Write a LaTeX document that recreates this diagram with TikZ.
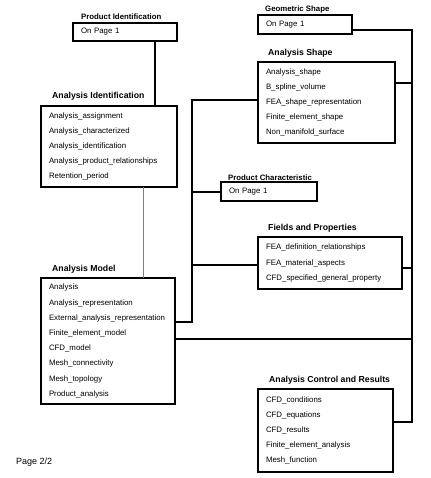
\documentclass[tikz,border=0pt]{standalone}
\usepackage{fontspec}
\setmainfont{Liberation Sans}
\usetikzlibrary{positioning}
\newcommand{\listfont}{\fontsize{7.85}{15.2}\selectfont}
\newcommand{\headfont}{\fontsize{8.7}{10}\selectfont\bfseries}
\newcommand{\subheadfont}{\fontsize{7.8}{9}\selectfont\bfseries}
\tikzstyle{listbox} = [rectangle, 
draw=black, 
line width=2pt, 
inner xsep=8pt, 
inner ysep=0pt, 
outer sep=0pt, 
align=left, 
font=\listfont]
\tikzstyle{heading} = [anchor=base west, font=\headfont, inner sep=0pt, xshift=11pt, yshift=7pt]
\tikzstyle{subheading} = [anchor=base west, font=\subheadfont, inner sep=0pt, xshift=8pt, yshift=3pt]
\tikzstyle{link} = [line width=2pt]
\tikzstyle{faint} = [line width=0.9pt, draw=gray]

\begin{document}
\begin{tikzpicture}[x=1pt, y=-1pt]
\useasboundingbox (0,0) rectangle (430,478);

% Nodes
\node (pid) [listbox, anchor=north west, text width=88pt, minimum height=18pt, label={[subheading]north west:Product Identification}] at (73,23) {On Page 1};
\node (ai) [listbox, below=65pt of pid.south east, anchor=north east, text width=120pt, minimum height=81pt, label={[heading]north west:Analysis Identification}] {Analysis\_assignment\\Analysis\_characterized\\Analysis\_identification\\Analysis\_product\_relationships\\Retention\_period};
\node (model) [listbox, below=91pt of ai.south west, anchor=north west, text width=118pt, minimum height=126pt, label={[heading]north west:Analysis Model}] {Analysis\\Analysis\_representation\\External\_analysis\_representation\\Finite\_element\_model\\CFD\_model\\Mesh\_connectivity\\Mesh\_topology\\Product\_analysis};
\node (geo) [listbox, anchor=north west, text width=78pt, minimum height=19pt, label={[subheading, xshift=-1pt]north west:Geometric Shape}] at (258,15) {On Page 1};
\node (shape) [listbox, below=28pt of geo.south west, anchor=north west, text width=121pt, minimum height=81pt, label={[heading, xshift=-1pt, yshift=-1pt]north west:Analysis Shape}] {Analysis\_shape\\B\_spline\_volume\\FEA\_shape\_representation\\Finite\_element\_shape\\Non\_manifold\_surface};
\node (char) [listbox, anchor=north west, text width=80pt, minimum height=19pt, label={[subheading, xshift=-1pt, yshift=-1pt]north west:Product Characteristic}] at (221,182) {On Page 1};
\node (fields) [listbox, below=94pt of shape.south west, anchor=north west, text width=128pt, minimum height=52pt, label={[heading, xshift=-1pt]north west:Fields and Properties}] {FEA\_definition\_relationships\\FEA\_material\_aspects\\CFD\_specified\_general\_property};
\node (acr) [listbox, below=100pt of fields.south west, anchor=north west, text width=119pt, minimum height=83pt, label={[heading]north west:Analysis Control and Results}] {CFD\_conditions\\CFD\_equations\\CFD\_results\\Finite\_element\_analysis\\Mesh\_function};
\node (page) [anchor=base west, inner sep=0pt, font=\fontsize{9}{10}\selectfont] at (16,464) {Page 2/2};

\coordinate (lbus) at (192,0);
\coordinate (rbus) at (412,0);

% Connectors
\draw [link] ([xshift=-22pt]pid.south east) -- ([xshift=-22pt]ai.north east);
\draw [faint] ([xshift=-34pt]ai.south east) -- ([xshift=-34pt]ai.south east |- model.north);
\draw [link] ([yshift=19pt]model.east) -| ([yshift=2.5pt]shape.west -| lbus) -- ([yshift=2.5pt]shape.west);
\draw [link] (char.west) -- (char.west -| lbus);
\draw [link] ([yshift=-2pt]fields.west) -- ([yshift=-2pt]fields.west -| lbus);
\draw [link] ([yshift=-5.5pt]geo.east) -| ([yshift=8.5pt]acr.east -| rbus) -- ([yshift=8.5pt]acr.east);
\draw [link] ([yshift=19.5pt]shape.east) -- ([yshift=19.5pt]shape.east -| rbus);
\draw [link] ([yshift=-5pt]fields.east) -- ([yshift=-5pt]fields.east -| rbus);
\draw [link] ([yshift=2pt]model.east) -- ([yshift=2pt]model.east -| rbus);

\end{tikzpicture}
\end{document}
